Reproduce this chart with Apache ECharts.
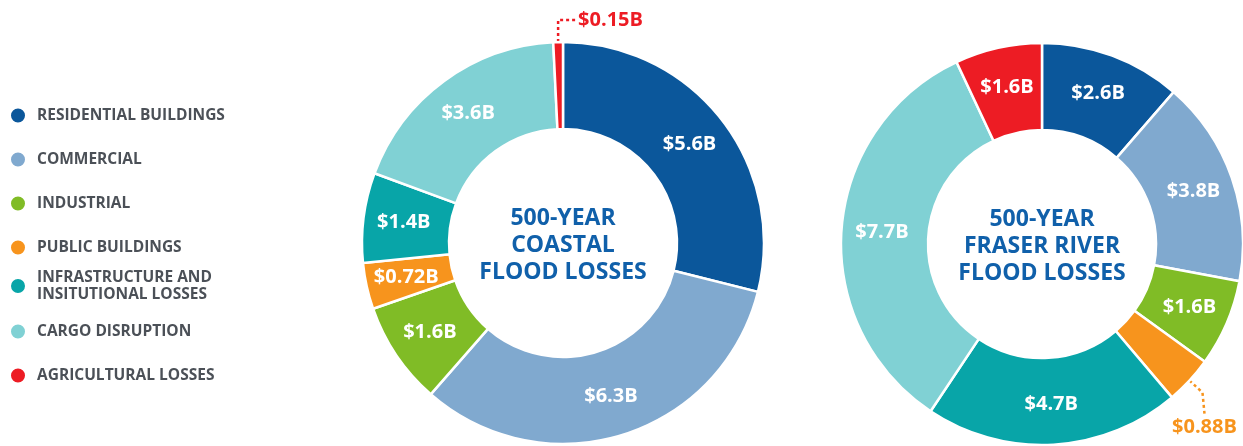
<!DOCTYPE html>
<html><head><meta charset="utf-8">
<script src="https://cdn.jsdelivr.net/npm/echarts@6/dist/echarts.min.js"></script>
<style>html,body{margin:0;padding:0;background:#fff}#c{width:1243px;height:446px}</style>
</head><body><div id="c"></div>
<script>
const categories = ['RESIDENTIAL BUILDINGS','COMMERCIAL','INDUSTRIAL','PUBLIC BUILDINGS','INFRASTRUCTURE AND INSITUTIONAL LOSSES','CARGO DISRUPTION','AGRICULTURAL LOSSES'];
const legendLines = [['RESIDENTIAL BUILDINGS'],['COMMERCIAL'],['INDUSTRIAL'],['PUBLIC BUILDINGS'],['INFRASTRUCTURE AND','INSITUTIONAL LOSSES'],['CARGO DISRUPTION'],['AGRICULTURAL LOSSES']];
const legendGroups = [[0, 1, 2, 3], [4], [5, 6]];
const coastalValues = [5.6, 6.3, 1.6, 0.72, 1.4, 3.6, 0.15];
const fraserValues = [2.6, 3.8, 1.6, 0.88, 4.7, 7.7, 1.6];
const centerTitles = ['500-YEAR\nCOASTAL\nFLOOD LOSSES', '500-YEAR\nFRASER RIVER\nFLOOD LOSSES'];
const colors = ['#0b579b','#80a9cf','#80bc26','#f7941d','#08a5a8','#80d1d4','#ed1c24'];
const FONT = '"Open Sans", sans-serif';
const centers = [[563, 243], [1042, 244]];
const radius = [114, 201];
const legendTops = [106.5, 269, 322.5];

function fmt(v){ return '$' + v + 'B'; }

function buildData(values, outsideIdx){
  return categories.map((name, i) => {
    const outside = i === outsideIdx;
    return {
      name: name, value: values[i],
      itemStyle: { color: colors[i] },
      label: outside ? {
        position: 'outside', color: colors[i], fontSize: 20, fontWeight: 'bold', fontFamily: FONT
      } : { position: 'inside' },
      labelLine: outside ? { show: true, lineStyle: { color: colors[i], width: 2.5, type: [3, 3] } } : { show: false }
    };
  });
}

function layoutCoastal(p){
  if (p.dataIndex !== 6 || !p.labelLinePoints) return {};
  const pt = p.labelLinePoints[0];
  const y = pt[1] - 22;
  return { x: pt[0] + 20, y: y, align: 'left', verticalAlign: 'middle',
    labelLinePoints: [[pt[0], pt[1]], [pt[0], y], [pt[0] + 18, y]] };
}
function layoutFraser(p){
  if (p.dataIndex !== 3 || !p.labelLinePoints) return {};
  const pt = p.labelLinePoints[0];
  return { x: pt[0] + 15, y: pt[1] + 47, align: 'center', verticalAlign: 'middle',
    labelLinePoints: [[pt[0], pt[1]], [pt[0] + 13, pt[1] + 12], [pt[0] + 15, pt[1] + 33]] };
}

function pieSeries(values, ci, outsideIdx, layoutFn){
  return {
    type: 'pie', center: centers[ci], radius: radius,
    startAngle: 90, clockwise: true, avoidLabelOverlap: false,
    itemStyle: { borderColor: '#fff', borderWidth: 2.5 },
    label: { show: true, formatter: p => fmt(p.value), color: '#fff', fontSize: 20, fontWeight: 'bold', fontFamily: FONT },
    emphasis: { disabled: true },
    labelLayout: layoutFn,
    data: buildData(values, outsideIdx)
  };
}

const chart = echarts.init(document.getElementById('c'), null, { renderer: 'canvas' });
chart.setOption({
  animation: false,
  backgroundColor: '#ffffff',
  legend: legendGroups.map((g, k) => ({
    orient: 'vertical', left: 9, top: legendTops[k], padding: 0,
    itemWidth: 16, itemHeight: 16, icon: 'circle', itemGap: 26,
    selectedMode: false,
    data: g.map(i => categories[i]),
    formatter: name => legendLines[categories.indexOf(name)].join('\n'),
    textStyle: { fontFamily: FONT, fontWeight: 'bold', fontSize: 15.5, color: '#4b5057', lineHeight: 17, padding: [0, 0, 0, 6] }
  })),
  graphic: centerTitles.map((t, i) => ({
    type: 'text', x: centers[i][0], y: centers[i][1] + 2,
    style: { text: t, align: 'center', verticalAlign: 'middle', fill: '#1060aa',
      font: 'bold 23px ' + FONT, lineHeight: 27 }
  })),
  series: [
    pieSeries(coastalValues, 0, 6, layoutCoastal),
    pieSeries(fraserValues, 1, 3, layoutFraser)
  ]
});
</script></body></html>
